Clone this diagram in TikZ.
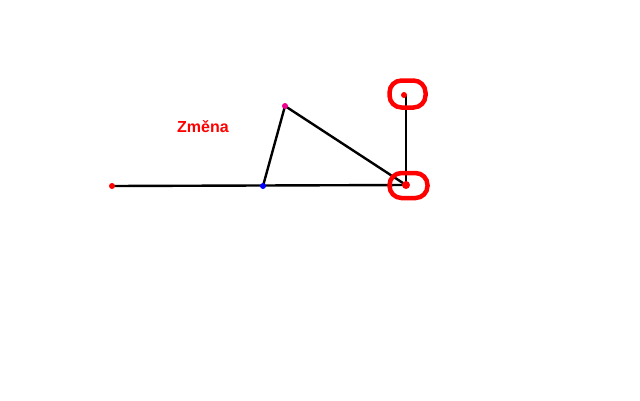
\documentclass[tikz,border=0pt]{standalone}
\usepackage{fontspec}
\setmainfont{Liberation Sans}
\begin{document}
\begin{tikzpicture}[x=1pt,y=-1pt,
  dot/.style={circle,inner sep=0pt,minimum size=6pt},
  edge/.style={draw=black,line width=2.4pt},
  loop/.style={draw=red,line width=4.5pt,rounded corners=12pt,minimum width=#1,inner sep=0pt},
  lbl/.style={text=red,font=\bfseries\fontsize{16}{18}\selectfont}]
\useasboundingbox[fill=white] (0,0) rectangle (640,400);
\coordinate (a) at (112,186);
\coordinate (b) at (263,186);
\coordinate (c) at (285,106);
\coordinate (d) at (406,185);
\coordinate (e) at (404,95);
\draw[edge] (a) -- (d);
\draw[edge] (b) -- (c) -- (d);
\draw[edge] (406,95) -- (d);
\node[loop=36pt,minimum height=27pt] (le) at (407.5,94) {};
\node[loop=38pt,minimum height=25pt] (ld) at (408.5,185.5) {};
\node[dot,fill=red] (na) at (a) {};
\node[dot,fill=blue] (nb) at (b) {};
\node[dot,fill=magenta] (nc) at (c) {};
\node[dot,fill=red,minimum size=8pt] (nd) at (d) {};
\node[dot,fill=red] (ne) at (e) {};
\node[lbl] (t) at (203,127) {Změna};
\end{tikzpicture}
\end{document}
